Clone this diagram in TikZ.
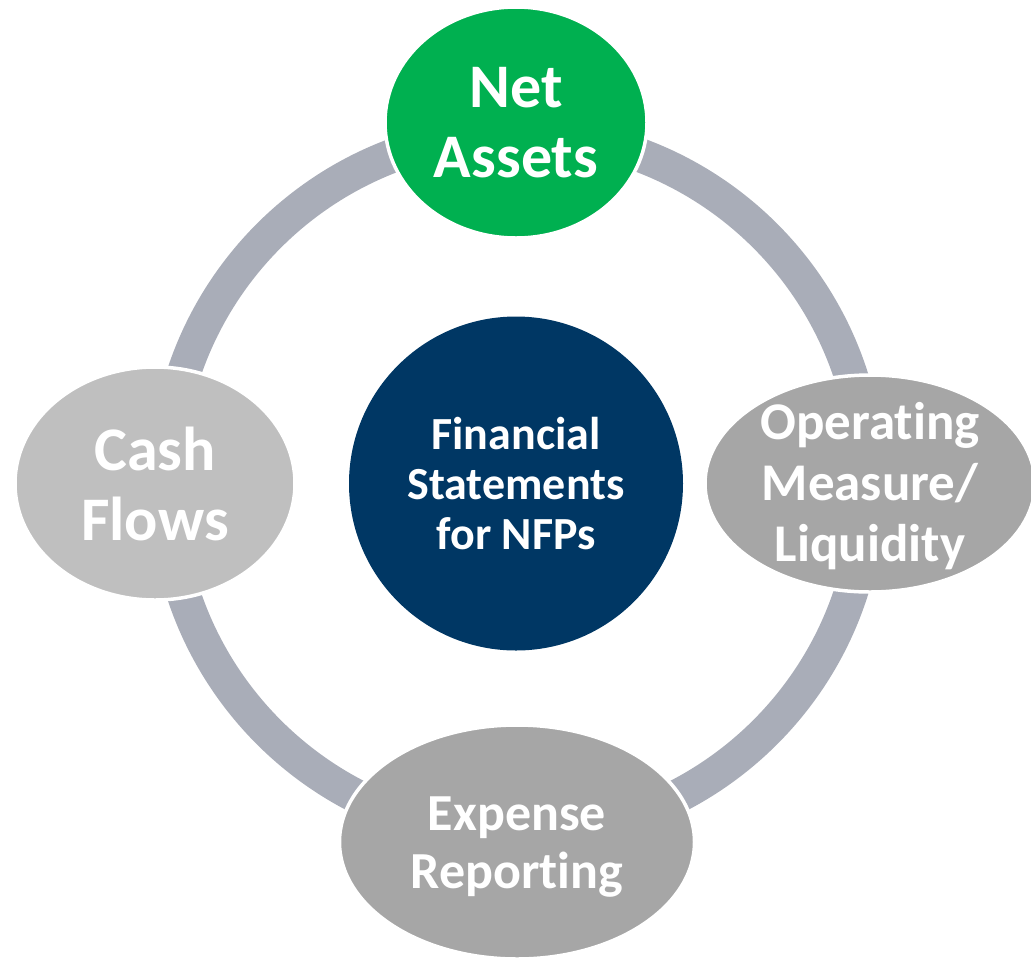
\documentclass[tikz,border=0pt]{standalone}
\usepackage{fontspec}
\setmainfont{Carlito}[Ligatures=NoCommon]
\usetikzlibrary{shapes.geometric}
\definecolor{ringgray}{RGB}{169,173,184}
\definecolor{navy}{RGB}{0,55,100}
\definecolor{netgreen}{RGB}{0,176,80}
\definecolor{midgray}{RGB}{166,166,166}
\definecolor{lightgray}{RGB}{191,191,191}
\tikzset{
  blob/.style={ellipse, draw=white, line width=3.5pt, inner sep=0pt},
  txt/.style={text=white, align=center, inner sep=0pt},
  ring/.style={draw=ringgray, line width=34pt}
}
\begin{document}
\begin{tikzpicture}[x=1pt,y=-1pt]
\useasboundingbox (0,0) rectangle (1031,962);
\draw[ring] (517,484) circle[radius=351pt];
% center
\node[circle, fill=navy, inner sep=0pt, minimum size=334pt] (core) at (516,483.5) {};
\node[txt, font=\fontsize{46}{50}\selectfont\bfseries] (coreT) at (core.center) {Financial\\Statements\\for NFPs};
% top
\node[blob, fill=netgreen, minimum width=262pt, minimum height=231pt] (net) at (516,122.5) {};
\node[txt, font=\fontsize{62}{70}\selectfont\bfseries] (netT) at (net.center) {Net\\Assets};
% right
\node[blob, fill=midgray, minimum width=330pt, minimum height=217pt] (ops) at (870,483.5) {};
\node[txt, font=\fontsize{53}{61}\selectfont\bfseries] (opsT) at ([yshift=-3pt]ops.center) {Operating\\Measure/\\Liquidity};
% bottom
\node[blob, fill=midgray, minimum width=355pt, minimum height=234pt] (exp) at (517,842) {};
\node[txt, font=\fontsize{52}{58}\selectfont\bfseries] (expT) at ([yshift=-5pt]exp.center) {Expense\\Reporting};
% left
\node[blob, fill=lightgray, minimum width=280pt, minimum height=233pt] (cash) at (155,483.5) {};
\node[txt, font=\fontsize{62}{70}\selectfont\bfseries] (cashT) at (cash.center) {Cash\\Flows};
\end{tikzpicture}
\end{document}
